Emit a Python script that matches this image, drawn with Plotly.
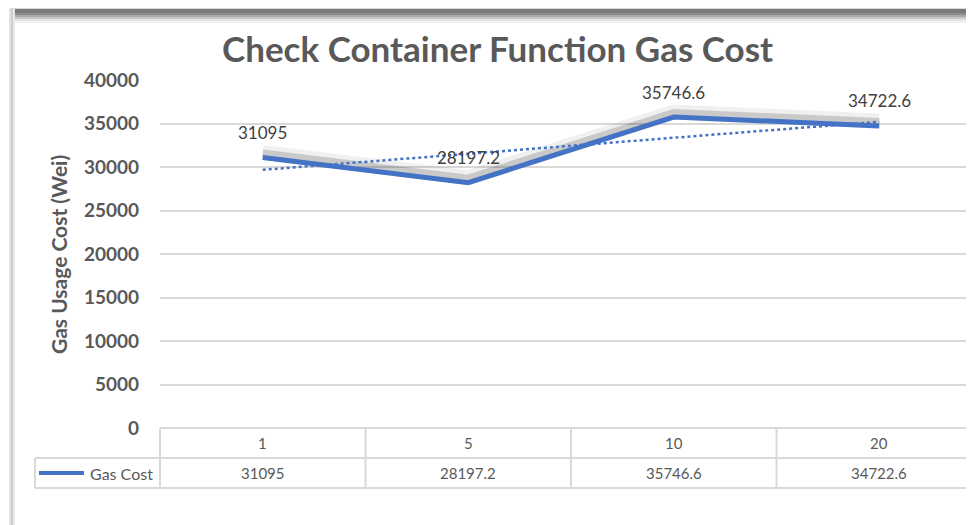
import numpy as np
import plotly.graph_objects as go

categories = ["1", "5", "10", "20"]
gas_cost = [31095, 28197.2, 35746.6, 34722.6]
value_labels = ["31095", "28197.2", "35746.6", "34722.6"]
y_ticks = [0, 5000, 10000, 15000, 20000, 25000, 30000, 35000, 40000]

# page body has an 8px margin, so the figure is laid out in page pixels minus 8
OFF = 8
W, H = 974 - OFF, 525 - OFF
PLOT_L = 160
PLOT_TOP, PLOT_BOT = 80, 488   # page pixel rows of the plot area
ZERO_PX = 428                  # page pixel row of value 0
L, R, T, B = PLOT_L - OFF, 0, PLOT_TOP - OFF, (525 - PLOT_BOT)
YMAX = 40000
UNITS_PER_PX = YMAX / (ZERO_PX - PLOT_TOP)
YMIN = -(PLOT_BOT - ZERO_PX) * UNITS_PER_PX
CAT_W = 205.5
XMIN, XMAX = -0.5, -0.5 + (974 - PLOT_L) / CAT_W

def px_x(p):
    return (p - PLOT_L) / (974 - PLOT_L)

def px_y(p):
    return (PLOT_BOT - p) / (PLOT_BOT - PLOT_TOP)

def data_x_to_paper(x):
    return (x - XMIN) / (XMAX - XMIN)

xs = np.arange(len(categories))
coef = np.polyfit(xs, gas_cost, 1)
trend = np.polyval(coef, xs)

BLUE = "#4472C4"
GRID = "#D9D9D9"
TXT = "#595959"
FONT = "Lato"

fig = go.Figure()
shadow_off = 5 * UNITS_PER_PX
fig.add_trace(go.Scatter(x=xs, y=[v + shadow_off for v in gas_cost], mode="lines",
                         line=dict(color="rgba(0,0,0,0.06)", width=15), hoverinfo="skip"))
fig.add_trace(go.Scatter(x=xs, y=[v + shadow_off * 0.8 for v in gas_cost], mode="lines",
                         line=dict(color="rgba(0,0,0,0.16)", width=8), hoverinfo="skip"))
fig.add_trace(go.Scatter(x=xs, y=trend, mode="lines",
                         line=dict(color=BLUE, width=2.5, dash="dot"), hoverinfo="skip"))
fig.add_trace(go.Scatter(x=xs, y=gas_cost, mode="lines", name="Gas Cost",
                         line=dict(color=BLUE, width=5)))

for i, (v, lab) in enumerate(zip(gas_cost, value_labels)):
    fig.add_annotation(x=i, y=v, text=lab, showarrow=False, yshift=25,
                       xanchor="center", yanchor="middle",
                       font=dict(family=FONT, size=17, color="#404040"))

shapes = []
def hline(y, x0, x1):
    shapes.append(dict(type="line", xref="paper", yref="paper", x0=x0, x1=x1,
                       y0=y, y1=y, line=dict(color=GRID, width=2)))
def vline(x, y0, y1):
    shapes.append(dict(type="line", xref="paper", yref="paper", x0=x, x1=x,
                       y0=y0, y1=y1, line=dict(color=GRID, width=2)))

hline(px_y(428), px_x(160), 1.02)
hline(px_y(458), px_x(35), 1.02)
hline(px_y(488), px_x(35), 1.02)
vline(px_x(160), px_y(428), px_y(488))
vline(px_x(35), px_y(458), px_y(488))
for i in range(1, len(categories)):
    vline(data_x_to_paper(i - 0.5), px_y(428), px_y(488))

# legend key in table
shapes.append(dict(type="line", xref="paper", yref="paper", x0=px_x(39), x1=px_x(84),
                   y0=px_y(473), y1=px_y(473), line=dict(color=BLUE, width=4)))

# frame shadow
for (y0, y1, c) in [(7, 9, "#d8d8d8"), (9, 13, "#7a7a7a"), (13, 15, "#8c8c8c"),
                    (15, 17, "#a8a8a8"), (17, 19, "#c8c8c8"), (19, 21, "#e4e4e4"),
                    (21, 23, "#f3f3f3")]:
    shapes.append(dict(type="rect", xref="paper", yref="paper", x0=px_x(10), x1=1.02,
                       y0=px_y(y1), y1=px_y(y0), line=dict(width=0), fillcolor=c, layer="below"))
for (x0, x1, c) in [(9, 11, "#e2e2e2"), (11, 13, "#cfcfcf"), (13, 15, "#e8e8e8")]:
    shapes.append(dict(type="rect", xref="paper", yref="paper", x0=px_x(x0), x1=px_x(x1),
                       y0=px_y(530), y1=px_y(9), line=dict(width=0), fillcolor=c, layer="below"))

fig.update_layout(shapes=shapes)

def ann(x, y, text, size, xanchor="center", bold=False, angle=0):
    fig.add_annotation(x=x, y=y, xref="paper", yref="paper", text=text, showarrow=False,
                       xanchor=xanchor, yanchor="middle", textangle=angle,
                       font=dict(family=FONT, size=size, color=TXT,
                                 weight="bold" if bold else "normal"))

for i, (c, lab) in enumerate(zip(categories, value_labels)):
    ann(data_x_to_paper(i), px_y(443), c, 15)
    ann(data_x_to_paper(i), px_y(473), lab, 15)
ann(px_x(155), px_y(473), "Gas Cost", 16, xanchor="right")
ann(px_x(497), px_y(48), "Check Container Function Gas Cost", 35, bold=True)
ann(px_x(58), px_y(254), "Gas Usage Cost (Wei)", 21, bold=True, angle=-90)

fig.update_layout(
    width=W, height=H,
    margin=dict(l=L, r=R, t=T, b=B),
    paper_bgcolor="white", plot_bgcolor="white",
    showlegend=False,
    xaxis=dict(range=[XMIN, XMAX], showgrid=False, showticklabels=False,
               zeroline=False, showline=False, ticks=""),
    yaxis=dict(range=[YMIN, YMAX], tickvals=y_ticks, tickformat="d",
               showgrid=True, gridcolor=GRID,
               gridwidth=1.5, zeroline=False, showline=False, ticks="",
               ticklabelstandoff=20,
               tickfont=dict(family=FONT, size=19, color=TXT, weight="bold")),
)

fig.write_html("out.html")
